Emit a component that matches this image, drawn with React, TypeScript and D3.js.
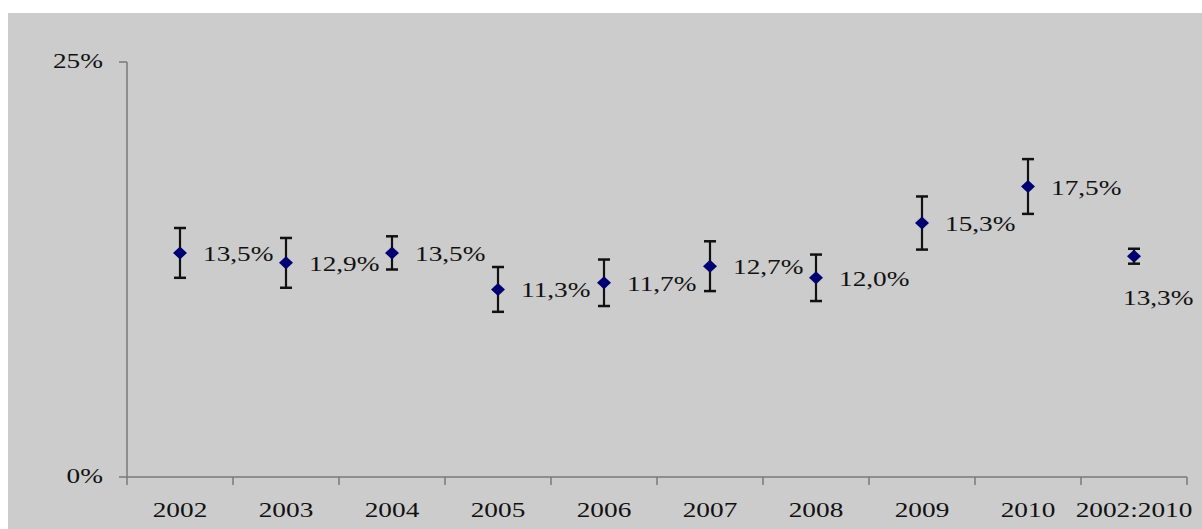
import React, { useEffect, useRef } from "react";
import * as d3 from "d3";

const years = ["2002", "2003", "2004", "2005", "2006", "2007", "2008", "2009", "2010", "2002:2010"];
const rates = [13.5, 12.9, 13.5, 11.3, 11.7, 12.7, 12.0, 15.3, 17.5, 13.3];
const errors = [1.5, 1.5, 1.0, 1.35, 1.4, 1.5, 1.4, 1.6, 1.65, 0.45];
const rateLabels = ["13,5%", "12,9%", "13,5%", "11,3%", "11,7%", "12,7%", "12,0%", "15,3%", "17,5%", "13,3%"];
const yTicks = [0, 25];

export default function App() {
  const ref = useRef<SVGSVGElement>(null);

  useEffect(() => {
    const svg = d3.select(ref.current);
    svg.selectAll("*").remove();

    const width = 1202;
    const height = 529;
    const left = 127;
    const right = 1187;
    const top = 62;
    const bottom = 477;
    const font = "'Liberation Serif', 'Times New Roman', serif";
    const stretch = 1.3;
    const fs = 21;
    const ink = "#111";

    svg.append("rect").attr("x", 8).attr("y", 13).attr("width", width - 8).attr("height", height - 13).attr("fill", "#cccccc");

    const x = d3.scaleBand().domain(years).range([left, right]).padding(0);
    const y = d3.scaleLinear().domain([0, 25]).range([bottom, top]);

    const axisColor = "#7a7a7a";

    // y axis
    svg.append("line").attr("x1", left).attr("x2", left).attr("y1", y(25)).attr("y2", y(0))
      .attr("stroke", axisColor).attr("stroke-width", 1.5);
    const yt = svg.append("g").selectAll("g").data(yTicks).join("g");
    yt.append("line").attr("x1", left - 8).attr("x2", left).attr("y1", d => y(d)).attr("y2", d => y(d))
      .attr("stroke", axisColor).attr("stroke-width", 1.5);
    yt.append("text")
      .attr("transform", d => `translate(${left - 24},${y(d) + 6}) scale(${stretch},1)`)
      .attr("text-anchor", "end")
      .attr("font-family", font).attr("font-size", fs).attr("fill", ink)
      .text(d => d + "%");

    // x axis
    svg.append("line").attr("x1", left).attr("x2", right).attr("y1", y(0)).attr("y2", y(0))
      .attr("stroke", axisColor).attr("stroke-width", 1.5);
    const bounds = years.map(d => (x(d) as number) + x.bandwidth());
    svg.append("g").selectAll("line").data([left, ...bounds]).join("line")
      .attr("x1", d => d).attr("x2", d => d).attr("y1", y(0)).attr("y2", y(0) + 8)
      .attr("stroke", axisColor).attr("stroke-width", 1.5);
    svg.append("g").selectAll("text").data(years).join("text")
      .attr("transform", d => `translate(${(x(d) as number) + x.bandwidth() / 2},517) scale(${stretch},1)`)
      .attr("text-anchor", "middle")
      .attr("font-family", font).attr("font-size", fs).attr("fill", ink)
      .text(d => d);

    const data = years.map((k, i) => ({ k, v: rates[i], e: errors[i], label: rateLabels[i], i }));
    const cx = (k: string) => (x(k) as number) + x.bandwidth() / 2;

    // error bars
    const eb = svg.append("g").selectAll("g").data(data).join("g");
    eb.append("line").attr("x1", d => cx(d.k)).attr("x2", d => cx(d.k))
      .attr("y1", d => y(d.v + d.e)).attr("y2", d => y(d.v - d.e))
      .attr("stroke", "#111").attr("stroke-width", 2.2);
    eb.append("line").attr("x1", d => cx(d.k) - 6).attr("x2", d => cx(d.k) + 6)
      .attr("y1", d => y(d.v + d.e)).attr("y2", d => y(d.v + d.e))
      .attr("stroke", "#111").attr("stroke-width", 2.5);
    eb.append("line").attr("x1", d => cx(d.k) - 6).attr("x2", d => cx(d.k) + 6)
      .attr("y1", d => y(d.v - d.e)).attr("y2", d => y(d.v - d.e))
      .attr("stroke", "#111").attr("stroke-width", 2.5);

    // markers
    svg.append("g").selectAll("path").data(data).join("path")
      .attr("d", d => {
        const px = cx(d.k), py = y(d.v);
        return `M${px},${py - 6.5}L${px + 7},${py}L${px},${py + 6.5}L${px - 7},${py}Z`;
      })
      .attr("fill", "#000070");

    // value labels
    svg.append("g").selectAll("text").data(data).join("text")
      .attr("transform", d => {
        const last = d.i === years.length - 1;
        const px = last ? cx(d.k) - 11 : cx(d.k) + 23;
        const py = last ? y(d.v) + 49 : y(d.v) + 8;
        return `translate(${px},${py}) scale(${stretch},1)`;
      })
      .attr("font-family", font).attr("font-size", fs).attr("fill", ink)
      .text(d => d.label);
  }, []);

  return (
    <svg ref={ref} width={1202} height={529}
      style={{ position: "absolute", left: 0, top: 0, display: "block" }} />
  );
}
